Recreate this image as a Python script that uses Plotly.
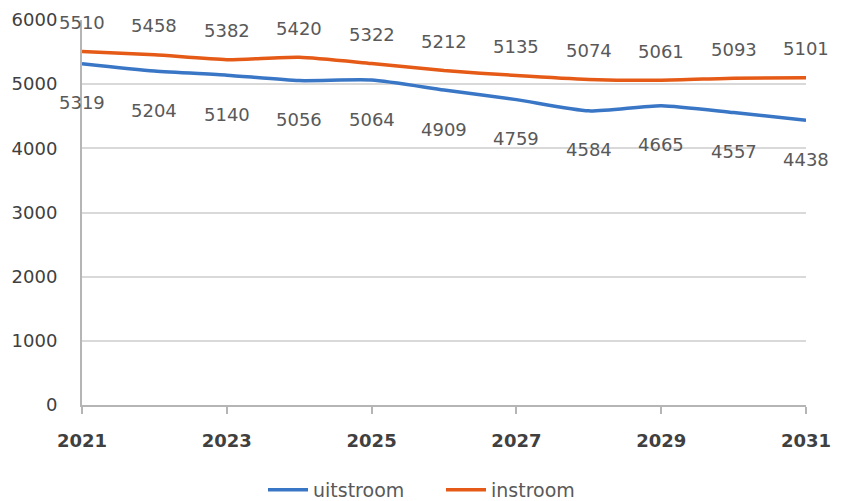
import plotly.graph_objects as go

years = [2021, 2022, 2023, 2024, 2025, 2026, 2027, 2028, 2029, 2030, 2031]
uitstroom = [5319, 5204, 5140, 5056, 5064, 4909, 4759, 4584, 4665, 4557, 4438]
instroom = [5510, 5458, 5382, 5420, 5322, 5212, 5135, 5074, 5061, 5093, 5101]
x_ticks = [2021, 2023, 2025, 2027, 2029, 2031]
y_ticks = [0, 1000, 2000, 3000, 4000, 5000, 6000]

BLUE = "#3a76c6"
ORANGE = "#e55a16"
LABEL = "#595959"
FONT = "DejaVu Sans"

fig = go.Figure()
fig.add_trace(go.Scatter(x=years, y=uitstroom, name="uitstroom", mode="lines",
                         line=dict(color=BLUE, width=3.5, shape="spline", smoothing=0.6)))
fig.add_trace(go.Scatter(x=years, y=instroom, name="instroom", mode="lines",
                         line=dict(color=ORANGE, width=3.5, shape="spline", smoothing=0.6)))

for x, y in zip(years, instroom):
    fig.add_annotation(x=x, y=y, text=str(y), showarrow=False, yshift=29,
                       font=dict(family=FONT, size=18, color=LABEL))
for x, y in zip(years, uitstroom):
    fig.add_annotation(x=x, y=y, text=str(y), showarrow=False, yshift=-39,
                       font=dict(family=FONT, size=18, color=LABEL))

fig.update_layout(
    width=843, height=501,
    margin=dict(l=74, r=45, t=12, b=104),
    paper_bgcolor="white", plot_bgcolor="white",
    font=dict(family=FONT, color=LABEL),
    showlegend=True,
    legend=dict(orientation="h", x=0.25, xanchor="left",
                yref="container", y=0.038, yanchor="middle",
                font=dict(family=FONT, size=19, color=LABEL), itemwidth=40,
                entrywidth=123, entrywidthmode="pixels",
                traceorder="normal"),
)
fig.update_xaxes(range=[2021, 2031], tickvals=x_ticks, ticktext=[str(v) for v in x_ticks],
                 showgrid=False, showline=True, linecolor="#b5b5b5", linewidth=2,
                 ticks="outside", ticklen=7, tickwidth=2, tickcolor="#b5b5b5",
                 tickfont=dict(family=FONT, size=18, color="#404040", weight="bold"),
                 ticklabelstandoff=11, zeroline=False, automargin=False)
fig.update_yaxes(range=[0, 6000], tickvals=y_ticks, ticktext=[str(v) for v in y_ticks],
                 showgrid=True, gridcolor="#d9d9d9", gridwidth=2,
                 showline=True, linecolor="#b5b5b5", linewidth=2,
                 tickfont=dict(family=FONT, size=18, color="#404040"),
                 ticklabelstandoff=19, zeroline=False, automargin=False)

fig.write_html("out.html")
